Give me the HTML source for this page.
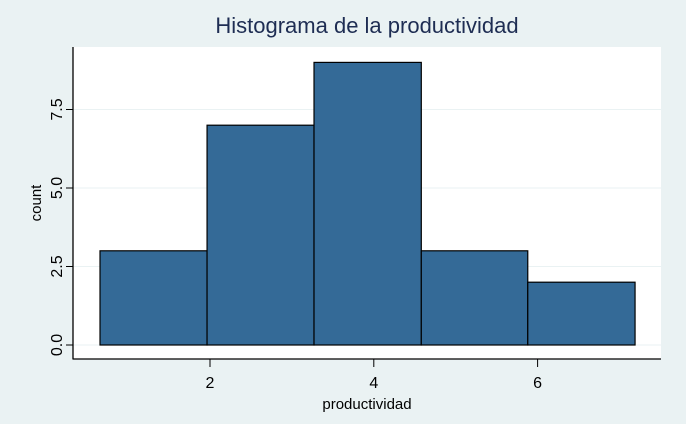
<!DOCTYPE html>
<html><head><meta charset="utf-8"><style>
html,body{margin:0;padding:0;background:#eaf2f3;}
svg{display:block;font-family:"Liberation Sans",sans-serif;}
</style></head><body>
<svg id="chart" width="686" height="424">
<rect x="0" y="0" width="686" height="424" fill="#eaf2f3"/>
<rect x="73" y="47" width="588" height="312" fill="#ffffff"/>
<text x="367" y="33" text-anchor="middle" font-size="22" fill="#1e2d53">Histograma de la productividad</text>
<g id="grid"></g><g id="bars"></g><g id="axes"></g>
<text x="367" y="409" text-anchor="middle" font-size="15" fill="#000">productividad</text>
<text transform="translate(41,203) rotate(-90)" text-anchor="middle" font-size="15" fill="#000">count</text>
</svg>
<script>
const binEdges=[0.657,1.964,3.27,4.58,5.88,7.19];
const counts=[3,7,9,3,2];
const xTicks=[2,4,6];
const yTicks=[0,2.5,5,7.5];
const yTickLabels=["0.0","2.5","5.0","7.5"];
const NS="http://www.w3.org/2000/svg";
const X=v=>210+(v-2)*81.9;
const Y=v=>345-v*31.4;
function mk(t,a,p){const e=document.createElementNS(NS,t);for(const k in a)e.setAttribute(k,a[k]);p.appendChild(e);return e;}
const grid=document.getElementById('grid'),bars=document.getElementById('bars'),axes=document.getElementById('axes');
yTicks.forEach((v,i)=>{
 const g=mk('line',{x1:73,x2:661,y1:Y(v),y2:Y(v),stroke:'#eaf2f3','stroke-width':1},grid);
 
 
 const t=mk('line',{x1:66,x2:73,y1:Y(v),y2:Y(v),stroke:'#000','stroke-width':1},axes);
 
 
 const l=mk('text',{transform:`translate(62,${Y(v)}) rotate(-90)`,'text-anchor':'middle','font-size':16,fill:'#000'},axes);
 l.textContent=yTickLabels[i];
 
 
});
counts.forEach((c,i)=>{
 const x0=X(binEdges[i]),x1=X(binEdges[i+1]);
 const r=mk('rect',{x:x0,y:Y(c),width:x1-x0,height:Y(0)-Y(c),fill:'#346a97',stroke:'#000','stroke-width':1.2},bars);
 
 
});
const ya=mk('line',{x1:73,x2:73,y1:47,y2:359.5,stroke:'#000','stroke-width':1.3},axes);


const xa=mk('line',{x1:73,x2:661,y1:359,y2:359,stroke:'#000','stroke-width':1.3},axes);


xTicks.forEach(v=>{
 const t=mk('line',{x1:X(v),x2:X(v),y1:359,y2:367,stroke:'#000','stroke-width':1},axes);
 
 
 const l=mk('text',{x:X(v),y:388,'text-anchor':'middle','font-size':16,fill:'#000'},axes);
 l.textContent=v;
 
 
});
</script>
</body></html>
